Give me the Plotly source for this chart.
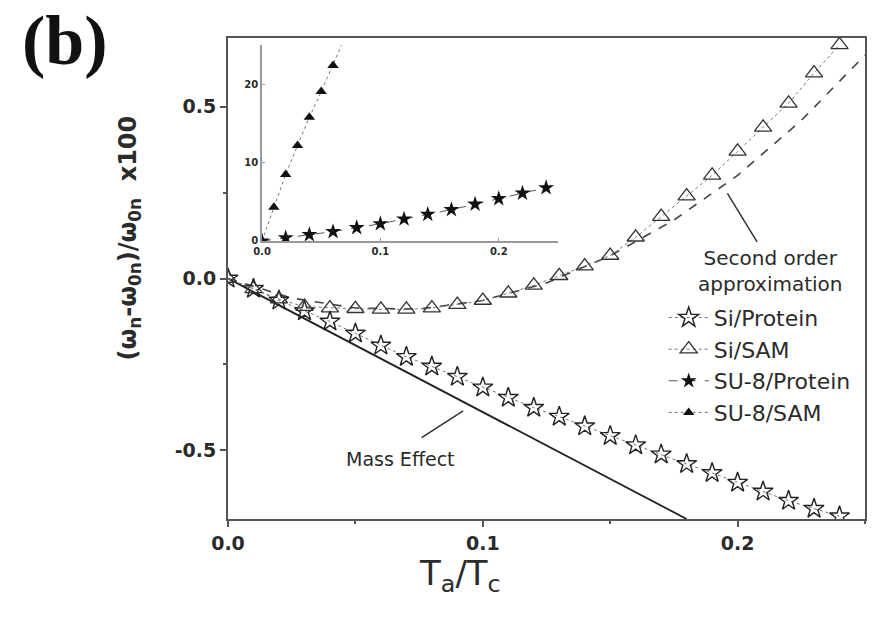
import plotly.graph_objects as go

# ---- data -------------------------------------------------------------
# Main panel: Si cantilevers
t_main = [0.00, 0.01, 0.02, 0.03, 0.04, 0.05, 0.06, 0.07, 0.08, 0.09, 0.10,
          0.11, 0.12, 0.13, 0.14, 0.15, 0.16, 0.17, 0.18, 0.19, 0.20, 0.21,
          0.22, 0.23, 0.24]
si_protein = [0.000, -0.030, -0.064, -0.095, -0.125, -0.160, -0.195, -0.228,
              -0.256, -0.286, -0.317, -0.347, -0.376, -0.402, -0.430, -0.458,
              -0.485, -0.512, -0.540, -0.566, -0.594, -0.620, -0.647, -0.670,
              -0.692]
si_sam = [0.000, -0.030, -0.060, -0.082, -0.086, -0.088, -0.090, -0.090,
          -0.086, -0.076, -0.064, -0.043, -0.020, 0.008, 0.036, 0.067,
          0.120, 0.180, 0.240, 0.300, 0.370, 0.440, 0.510, 0.598, 0.680]

# Mass-effect line (linear term only)
mass_t = [0.0, 0.18]
mass_y = [0.0, -0.70]

# Second order approximation
approx_t = [0.0, 0.025, 0.05, 0.075, 0.10, 0.125, 0.15, 0.175, 0.20, 0.225, 0.25]
approx_y = [0.0, -0.057, -0.086, -0.089, -0.064, -0.013, 0.066, 0.170, 0.300,
            0.460, 0.650]

# Inset: SU-8 cantilevers
t_su8_sam = [0.00, 0.01, 0.02, 0.03, 0.04, 0.05, 0.06, 0.07]
su8_sam = [0.0, 4.3, 8.5, 12.2, 15.8, 19.1, 22.4, 26.0]
t_su8_protein = [0.00, 0.02, 0.04, 0.06, 0.08, 0.10, 0.12, 0.14, 0.16, 0.18,
                 0.20, 0.22, 0.24]
su8_protein = [0.0, 0.4, 0.8, 1.2, 1.7, 2.2, 2.8, 3.4, 4.0, 4.7, 5.4, 6.1, 6.8]

x_ticks = [0.0, 0.1, 0.2]
x_tick_labels = ["0.0", "0.1", "0.2"]
y_ticks = [-0.5, 0.0, 0.5]
y_tick_labels = ["-0.5", "0.0", "0.5"]
inset_y_ticks = [0, 10, 20]

# ---- styling ----------------------------------------------------------
INK = "#2b2b2b"
AXIS = "#555555"
SANS = "DejaVu Sans, Liberation Sans, Arial, sans-serif"
DOT = dict(color="#777777", width=1, dash="dot")

fig = go.Figure()

# mass effect line
fig.add_trace(go.Scatter(x=mass_t, y=mass_y, mode="lines",
                         line=dict(color="#222222", width=1.8),
                         showlegend=False, hoverinfo="skip"))
# second order approximation
fig.add_trace(go.Scatter(x=approx_t, y=approx_y, mode="lines",
                         line=dict(color="#444444", width=1.6, dash="dash"),
                         showlegend=False, hoverinfo="skip"))

fig.add_trace(go.Scatter(
    x=t_main, y=si_protein, mode="lines+markers", name="Si/Protein",
    line=DOT,
    marker=dict(symbol="star-open", size=15, color="#222222",
                line=dict(width=1.4, color="#222222"))))
fig.add_trace(go.Scatter(
    x=t_main, y=si_sam, mode="lines+markers", name="Si/SAM",
    line=DOT,
    marker=dict(symbol="triangle-up-open", size=15, color="#333333",
                line=dict(width=1.3, color="#333333"))))
fig.add_trace(go.Scatter(
    x=t_su8_protein, y=su8_protein, mode="lines+markers", name="SU-8/Protein",
    xaxis="x2", yaxis="y2",
    line=dict(color="#555555", width=1, dash="dash"),
    marker=dict(symbol="star", size=12, color="#111111")))
fig.add_trace(go.Scatter(
    x=t_su8_sam, y=su8_sam, mode="lines+markers", name="SU-8/SAM",
    xaxis="x2", yaxis="y2",
    line=DOT,
    marker=dict(symbol="triangle-up", size=10, color="#111111")))

fig.update_layout(
    width=878, height=629,
    margin=dict(l=228, r=13, t=38, b=110),
    paper_bgcolor="white", plot_bgcolor="white",
    font=dict(family=SANS, color=INK),
    xaxis=dict(range=[0, 0.25], tickvals=x_ticks, ticktext=x_tick_labels,
               showgrid=False, zeroline=False, showline=True, mirror=True,
               linecolor=AXIS, linewidth=2, ticks="outside", ticklen=6,
               tickcolor=AXIS, tickwidth=1.5,
               minor=dict(dtick=0.05, ticks="outside", ticklen=3,
                          tickcolor=AXIS),
               tickfont=dict(family="DejaVu Sans", size=19, color=INK,
                             weight="bold")),
    yaxis=dict(range=[-0.7, 0.7], tickvals=y_ticks, ticktext=y_tick_labels,
               showgrid=False, zeroline=False, showline=True, mirror=True,
               linecolor=AXIS, linewidth=2, ticks="outside", ticklen=6,
               tickcolor=AXIS, tickwidth=1.5,
               minor=dict(dtick=0.25, ticks="outside", ticklen=3,
                          tickcolor=AXIS),
               tickfont=dict(family="DejaVu Sans", size=19, color=INK,
                             weight="bold")),
    xaxis2=dict(domain=[0.0534, 0.518], anchor="y2", range=[0, 0.25],
                tickvals=x_ticks, ticktext=x_tick_labels,
                showgrid=False, zeroline=False, showline=True,
                linecolor="#999999", linewidth=1.5, ticks="inside", ticklen=3,
                tickcolor="#999999",
                tickfont=dict(size=10, color=INK, weight="bold")),
    yaxis2=dict(domain=[0.578, 0.985], anchor="x2", range=[0, 25],
                tickvals=inset_y_ticks,
                showgrid=False, zeroline=False, showline=True,
                linecolor="#999999", linewidth=1.5, ticks="inside", ticklen=3,
                tickcolor="#999999",
                tickfont=dict(size=10, color=INK, weight="bold")),
    legend=dict(x=0.684, y=0.462, xanchor="left", yanchor="top",
                bgcolor="rgba(0,0,0,0)", font=dict(size=22, color=INK),
                itemwidth=40, tracegroupgap=0),
    showlegend=True,
)

annotations = [
    # panel tag
    dict(text="<b>(b)</b>", xref="paper", yref="paper", x=-0.256, y=0.995,
         xanchor="center", yanchor="middle", showarrow=False,
         font=dict(family="Liberation Serif, Times New Roman, serif",
                   size=70, color="#111111")),
    # y axis title
    dict(text="<b>(ω<sub>n</sub>-ω<sub>0n</sub>)/ω<sub>0n</sub>  x100</b>",
         xref="paper", yref="paper", x=-0.154, y=0.585, textangle=-90,
         xanchor="center", yanchor="middle", showarrow=False,
         font=dict(size=24, color=INK)),
    # x axis title
    dict(text="T<sub>a</sub>/T<sub>c</sub>", xref="paper", yref="paper",
         x=0.364, y=-0.118, xanchor="center", yanchor="middle",
         showarrow=False, font=dict(size=34, color=INK)),
    # curve labels
    dict(text="Mass Effect", x=0.0676, y=-0.525, xref="x", yref="y",
         showarrow=False, font=dict(size=19, color=INK),
         xanchor="center", yanchor="middle"),
    dict(text="Second order<br>approximation", x=0.213, y=0.023,
         xref="x", yref="y", showarrow=False, align="center",
         font=dict(size=20, color=INK)),
]
fig.update_layout(annotations=annotations)

# leader lines for the curve labels (tail -> tip)
fig.add_annotation(x=0.0923, y=-0.385, ax=0.0754, ay=-0.466, xref="x", yref="y",
                   axref="x", ayref="y", text="", showarrow=True, arrowhead=0,
                   arrowwidth=1.5, arrowcolor="#333333")
fig.add_annotation(x=0.196, y=0.248, ax=0.208, ay=0.102, xref="x", yref="y",
                   axref="x", ayref="y", text="", showarrow=True, arrowhead=0,
                   arrowwidth=1.5, arrowcolor="#333333")

fig.write_html("out.html")
